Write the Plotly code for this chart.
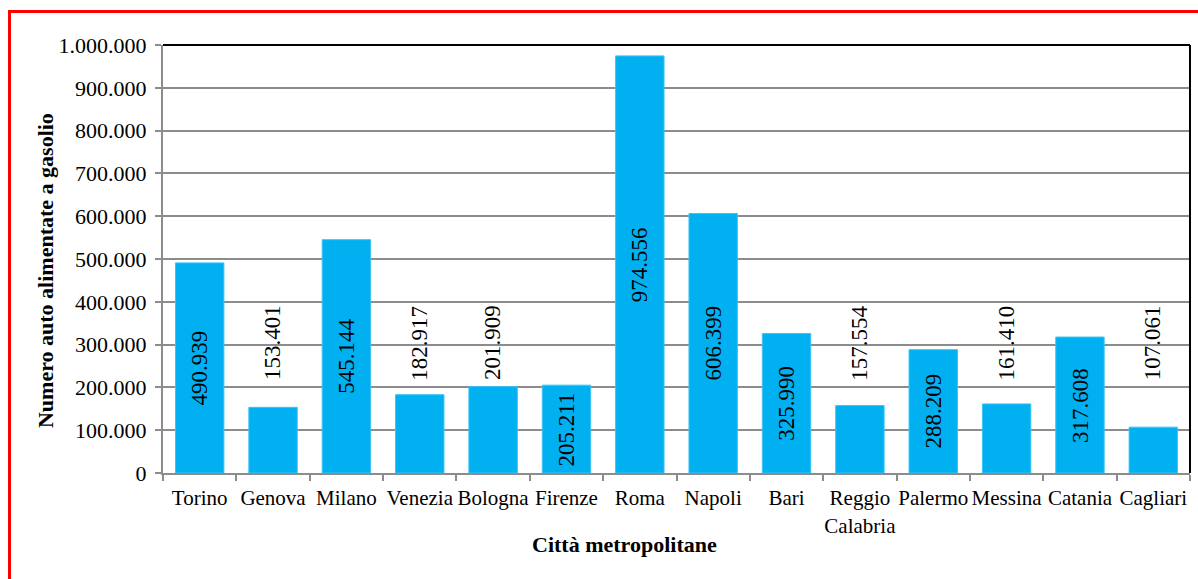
import plotly.graph_objects as go

# ---- data ----
cities = ["Torino", "Genova", "Milano", "Venezia", "Bologna", "Firenze", "Roma",
          "Napoli", "Bari", "Reggio Calabria", "Palermo", "Messina", "Catania", "Cagliari"]
diesel_cars = [490939, 153401, 545144, 182917, 201909, 205211, 974556,
               606399, 325990, 157554, 288209, 161410, 317608, 107061]
labels_above = ["Genova", "Venezia", "Bologna", "Reggio Calabria", "Messina", "Cagliari"]
y_ticks = [0, 100000, 200000, 300000, 400000, 500000, 600000, 700000, 800000, 900000, 1000000]

# ---- styles ----
BAR_COLOR = "#00B0F0"
GRID = "#8C8C8C"
SERIF = "Liberation Serif"
OUTSIDE_LABEL_Y = 304000

x_cats = [c.replace(" ", "<br>") for c in cities]

fig = go.Figure()
fig.add_trace(go.Bar(
    x=x_cats, y=diesel_cars,
    marker=dict(color=BAR_COLOR, line=dict(color="#3CC3F5", width=1)),
    hoverinfo="x+y",
))

def fmt(v):
    return f"{v:,}".replace(",", ".")

annotations = []
for xc, c, v in zip(x_cats, cities, diesel_cars):
    ypos = OUTSIDE_LABEL_Y if c in labels_above else v / 2
    annotations.append(dict(
        x=xc, y=ypos, xref="x", yref="y", text=fmt(v), showarrow=False,
        textangle=-90, xanchor="center", yanchor="middle",
        font=dict(family=SERIF, size=23, color="black")))

annotations.append(dict(
    x=0.449, y=-0.166, xref="paper", yref="paper", text="<b>Città metropolitane</b>",
    showarrow=False, xanchor="center", yanchor="middle",
    font=dict(family=SERIF, size=22, color="black")))
annotations.append(dict(
    x=-0.115, y=0.474, xref="paper", yref="paper",
    text="<b>Numero auto alimentate a gasolio</b>", textangle=-90,
    showarrow=False, xanchor="center", yanchor="middle",
    font=dict(family=SERIF, size=22, color="black")))

shapes = [
    dict(type="line", xref="paper", yref="paper", x0=0, x1=1, y0=1, y1=1,
         line=dict(color="black", width=2)),
    dict(type="line", xref="paper", yref="paper", x0=1, x1=1, y0=0, y1=1,
         line=dict(color="black", width=2)),
    dict(type="rect", xref="paper", yref="paper",
         xsizemode="pixel", ysizemode="pixel", xanchor=0, yanchor=1,
         x0=-153.5, x1=1100, y0=33.5, y1=-700,
         line=dict(color="#FF0000", width=3), fillcolor="rgba(0,0,0,0)"),
]

fig.update_layout(
    width=1198, height=579,
    margin=dict(l=163, r=8, t=45, b=106, autoexpand=False),
    paper_bgcolor="white", plot_bgcolor="white",
    separators=",.",
    bargap=0.34,
    showlegend=False,
    annotations=annotations,
    shapes=shapes,
    font=dict(family=SERIF, size=22, color="black"),
    xaxis=dict(
        type="category", tickson="boundaries", ticks="outside", ticklen=6,
        tickcolor=GRID, tickwidth=1.5, showgrid=False, tickangle=0, automargin=False,
        ticklabelstandoff=5,
        showline=True, linecolor=GRID, linewidth=2,
        tickfont=dict(family=SERIF, size=21, color="black"),
    ),
    yaxis=dict(
        range=[0, 1000000], tickmode="array", tickvals=y_ticks, tickformat=",d",
        ticks="outside", ticklen=6, tickcolor=GRID, tickwidth=1.5, automargin=False,
        ticklabelstandoff=4,
        showgrid=True, gridcolor=GRID, gridwidth=1.5,
        showline=True, linecolor=GRID, linewidth=2, zeroline=False,
        tickfont=dict(family=SERIF, size=22, color="black"),
    ),
)

fig.write_html("out.html")
